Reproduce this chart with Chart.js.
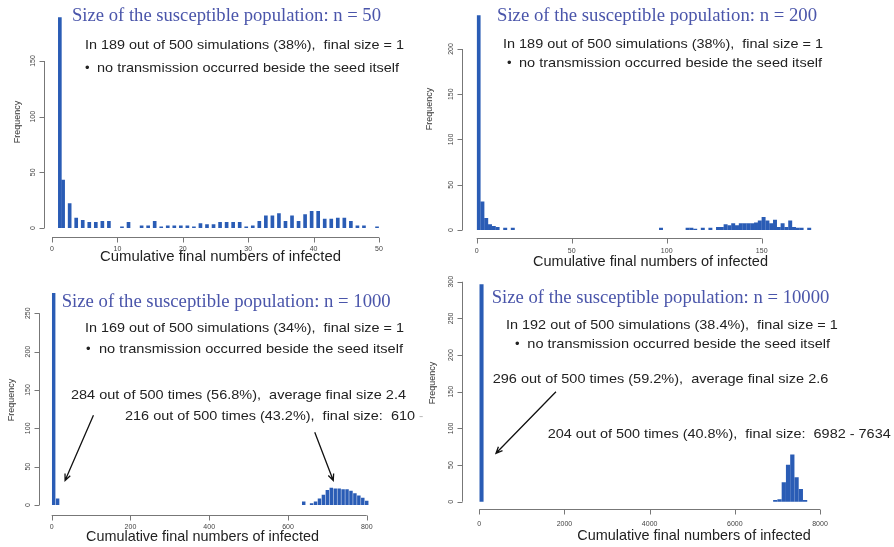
<!DOCTYPE html>
<html>
<head>
<meta charset="utf-8">
<script src="https://cdn.jsdelivr.net/npm/chart.js@4.4.1/dist/chart.umd.min.js"></script>
<style>
  html, body { margin: 0; padding: 0; background: #fff; }
  #wrap { position: relative; width: 894px; height: 547px; overflow: hidden; }
  canvas { position: absolute; left: 0; top: 0; }
</style>
</head>
<body>
<div id="wrap">
  <canvas id="c50" width="894" height="547"></canvas>
  <canvas id="c200" width="894" height="547"></canvas>
  <canvas id="c1000" width="894" height="547"></canvas>
  <canvas id="c10000" width="894" height="547"></canvas>
</div>
<script>
// n = 50 : final size -> number of simulations
const size50 = [1.2, 1.7, 2.7, 3.7, 4.7, 5.7, 6.7, 7.7, 8.7, 10.7, 11.7, 13.7, 14.7, 15.7, 16.7, 17.7, 18.7, 19.7, 20.7, 21.7,
  22.7, 23.7, 24.7, 25.7, 26.7, 27.7, 28.7, 29.7, 30.7, 31.7, 32.7, 33.7, 34.7, 35.7, 36.7, 37.7, 38.7, 39.7, 40.7, 41.7,
  42.7, 43.7, 44.7, 45.7, 46.7, 47.7, 49.7];
const freq50 = [189, 43, 22, 9, 7, 5, 5, 6, 6, 1, 5, 2, 2, 6, 1, 2, 2, 2, 2, 1,
  4, 3, 3, 5, 5, 5, 5, 1, 2, 6, 11, 11, 13, 6, 11, 6, 12, 15, 15, 8,
  8, 9, 9, 6, 2, 2, 1];
const xTicks50 = [0, 10, 20, 30, 40, 50];
const yTicks50 = [0, 50, 100, 150];

// n = 200
const size200 = [1, 3, 5, 7, 9, 11, 15, 19, 97, 111, 113, 115, 119, 123, 127,
  129, 131, 133, 135, 137, 139, 141, 143, 145, 147, 149, 151, 153, 155, 157, 159, 161, 163, 165, 167, 169, 171, 175];
const freq200 = [237, 31, 13, 6, 4, 3, 2, 2, 2, 2, 2, 1, 2, 2, 3,
  3, 6, 5, 7, 5, 7, 7, 7, 7, 8, 10, 14, 10, 7, 11, 3, 7, 3, 10, 3, 2, 2, 2];
const xTicks200 = [0, 50, 100, 150];
const yTicks200 = [0, 50, 100, 150, 200];

// n = 1000
const size1000 = [5, 15, 640, 660, 670, 680, 690, 700, 710, 720, 730, 740, 750, 760, 770, 780, 790, 800];
const freq1000 = [276, 8, 4, 2, 4, 8, 13, 19, 22, 21, 21, 20, 20, 18, 15, 12, 9, 5];
const xTicks1000 = [0, 200, 400, 600, 800];
const yTicks1000 = [0, 50, 100, 150, 200, 250];

// n = 10000
const size10000 = [50, 6950, 7050, 7150, 7250, 7350, 7450, 7550, 7650];
const freq10000 = [296, 2, 3, 26, 50, 64, 33, 17, 2];
const xTicks10000 = [0, 2000, 4000, 6000, 8000];
const yTicks10000 = [0, 50, 100, 150, 200, 250, 300];

const BAR = '#2a5cb5';
const FONTS = {
  title: '19px "Liberation Serif"',
  body: '13px "Liberation Sans"',
  label: '15px "Liberation Sans"'
};
const COLORS = { title: '#4a55aa', body: '#222', label: '#222', faint: '#bbb' };

// draws R-style axes, texts and arrows
const rStyle = {
  id: 'rStyle',
  afterDatasetsDraw(chart, args, o) {
    const ctx = chart.ctx, xs = chart.scales.x, ys = chart.scales.y;
    ctx.save();
    ctx.strokeStyle = '#777';
    ctx.lineWidth = 1;
    ctx.beginPath();
    const ax = Math.round(o.axisX) + 0.5, ay = Math.round(o.axisY) + 0.5;
    ctx.moveTo(ax, ys.getPixelForValue(o.yTicks[o.yTicks.length - 1]));
    ctx.lineTo(ax, ys.getPixelForValue(o.yTicks[0]));
    o.yTicks.forEach(v => {
      const p = Math.round(ys.getPixelForValue(v)) + 0.5;
      ctx.moveTo(ax, p); ctx.lineTo(ax - 5, p);
    });
    ctx.moveTo(xs.getPixelForValue(o.xTicks[0]), ay);
    ctx.lineTo(xs.getPixelForValue(o.xTicks[o.xTicks.length - 1]), ay);
    o.xTicks.forEach(v => {
      const p = Math.round(xs.getPixelForValue(v)) + 0.5;
      ctx.moveTo(p, ay); ctx.lineTo(p, ay + 5);
    });
    ctx.stroke();

    ctx.fillStyle = '#444';
    ctx.font = '7px "Liberation Sans"';
    ctx.textAlign = 'center';
    ctx.textBaseline = 'middle';
    o.yTicks.forEach(v => {
      ctx.save();
      ctx.translate(o.axisX - 11, ys.getPixelForValue(v));
      ctx.rotate(-Math.PI / 2);
      ctx.fillText(String(v), 0, 0);
      ctx.restore();
    });
    o.xTicks.forEach(v => ctx.fillText(String(v), xs.getPixelForValue(v), o.axisY + o.xTickGap));

    ctx.font = '9px "Liberation Sans"';
    ctx.fillStyle = '#333';
    ctx.save();
    ctx.translate(o.freq[0], o.freq[1]);
    ctx.rotate(-Math.PI / 2);
    ctx.fillText('Frequency', 0, 0);
    ctx.restore();

    ctx.textAlign = 'left';
    ctx.textBaseline = 'alphabetic';
    o.texts.forEach(t => {
      ctx.font = FONTS[t.f];
      ctx.fillStyle = COLORS[t.c || t.f];
      ctx.save();
      ctx.translate(t.x, t.y);
      if (t.w) ctx.scale(t.w / ctx.measureText(t.text).width, 1);
      ctx.fillText(t.text, 0, 0);
      ctx.restore();
    });

    ctx.strokeStyle = '#111';
    ctx.lineWidth = 1.3;
    (o.arrows || []).forEach(a => {
      const x1 = xs.getPixelForValue(a[0]), y1 = ys.getPixelForValue(a[1]);
      const x2 = xs.getPixelForValue(a[2]), y2 = ys.getPixelForValue(a[3]);
      const ang = Math.atan2(y2 - y1, x2 - x1), L = 7, s = 0.42;
      ctx.beginPath();
      ctx.moveTo(x1, y1); ctx.lineTo(x2, y2);
      ctx.moveTo(x2 - L * Math.cos(ang - s), y2 - L * Math.sin(ang - s));
      ctx.lineTo(x2, y2);
      ctx.lineTo(x2 - L * Math.cos(ang + s), y2 - L * Math.sin(ang + s));
      ctx.stroke();
    });
    ctx.restore();
  }
};

function makeChart(id, sizes, freqs, xmax, ymax, area, thick, deco) {
  return new Chart(document.getElementById(id), {
    type: 'bar',
    data: {
      datasets: [{
        data: sizes.map((s, i) => ({ x: s, y: freqs[i] })),
        backgroundColor: BAR,
        borderWidth: 0,
        barThickness: thick
      }]
    },
    options: {
      responsive: false,
      animation: false,
      devicePixelRatio: 1,
      layout: { padding: { left: area[0], right: 894 - area[1], top: area[2], bottom: 547 - area[3] } },
      scales: {
        x: { type: 'linear', min: 0, max: xmax, offset: false, display: false },
        y: { min: 0, max: ymax, display: false }
      },
      plugins: { legend: { display: false }, tooltip: { enabled: false }, rStyle: deco }
    },
    plugins: [rStyle]
  });
}

makeChart('c50', size50, freq50, 50, 190, [52, 379, 16.5, 228], 3, {
  axisX: 44, axisY: 237, xTickGap: 12, xTicks: xTicks50, yTicks: yTicks50, freq: [18, 122],
  texts: [
    { text: 'Size of the susceptible population: n = 50', f: 'title', x: 72, y: 21, w: 309 },
    { text: 'In 189 out of 500 simulations (38%),  final size = 1', f: 'body', x: 85, y: 49.3, w: 319 },
    { text: '•', f: 'body', x: 85, y: 71.7 },
    { text: 'no transmission occurred beside the seed itself', f: 'body', x: 97, y: 71.7, w: 302 },
    { text: 'Cumulative final numbers of infected', f: 'label', x: 100, y: 260.7, w: 241 }
  ]
});

makeChart('c200', size200, freq200, 180, 240, [476.7, 818.7, 12.8, 230], 3.3, {
  axisX: 461.7, axisY: 238.3, xTickGap: 13, xTicks: xTicks200, yTicks: yTicks200, freq: [430, 109],
  texts: [
    { text: 'Size of the susceptible population: n = 200', f: 'title', x: 497, y: 20.7, w: 320 },
    { text: 'In 189 out of 500 simulations (38%),  final size = 1', f: 'body', x: 503, y: 47.7, w: 320 },
    { text: '•', f: 'body', x: 507, y: 66.7 },
    { text: 'no transmission occurred beside the seed itself', f: 'body', x: 519, y: 66.7, w: 303 },
    { text: 'Cumulative final numbers of infected', f: 'label', x: 533, y: 266, w: 235 }
  ]
});

makeChart('c1000', size1000, freq1000, 820, 290, [51.7, 374.6, 282.6, 505], 2.8, {
  axisX: 39.3, axisY: 515, xTickGap: 12, xTicks: xTicks1000, yTicks: yTicks1000, freq: [11.7, 400],
  texts: [
    { text: 'Size of the susceptible population: n = 1000', f: 'title', x: 61.7, y: 307.3, w: 329 },
    { text: 'In 169 out of 500 simulations (34%),  final size = 1', f: 'body', x: 85, y: 331.7, w: 319 },
    { text: '•', f: 'body', x: 86, y: 352.7 },
    { text: 'no transmission occurred beside the seed itself', f: 'body', x: 99, y: 352.7, w: 304 },
    { text: '284 out of 500 times (56.8%),  average final size 2.4', f: 'body', x: 71, y: 399, w: 335 },
    { text: '216 out of 500 times (43.2%),  final size:  610', f: 'body', x: 125, y: 420, w: 290 },
    { text: '-', f: 'body', c: 'faint', x: 419, y: 420 },
    { text: 'Cumulative final numbers of infected', f: 'label', x: 86, y: 540.7, w: 233 }
  ],
  arrows: [[106, 117, 34, 32], [668, 95, 715, 32]]
});

makeChart('c10000', size10000, freq10000, 8000, 310, [479.3, 820, 274.4, 501.7], 3.6, {
  axisX: 461.7, axisY: 509.3, xTickGap: 15, xTicks: xTicks10000, yTicks: yTicks10000, freq: [433, 383],
  texts: [
    { text: 'Size of the susceptible population: n = 10000', f: 'title', x: 491.7, y: 303.3, w: 337.6 },
    { text: 'In 192 out of 500 simulations (38.4%),  final size = 1', f: 'body', x: 506, y: 328.7, w: 331.7 },
    { text: '•', f: 'body', x: 515, y: 348.3 },
    { text: 'no transmission occurred beside the seed itself', f: 'body', x: 527.3, y: 348.3, w: 302.7 },
    { text: '296 out of 500 times (59.2%),  average final size 2.6', f: 'body', x: 492.7, y: 383.3, w: 335.6 },
    { text: '204 out of 500 times (40.8%),  final size:  6982 - 7634', f: 'body', x: 547.7, y: 438.3, w: 343 },
    { text: 'Cumulative final numbers of infected', f: 'label', x: 577.3, y: 540, w: 233.4 }
  ],
  arrows: [[1800, 150, 392, 66]]
});
</script>
</body>
</html>
